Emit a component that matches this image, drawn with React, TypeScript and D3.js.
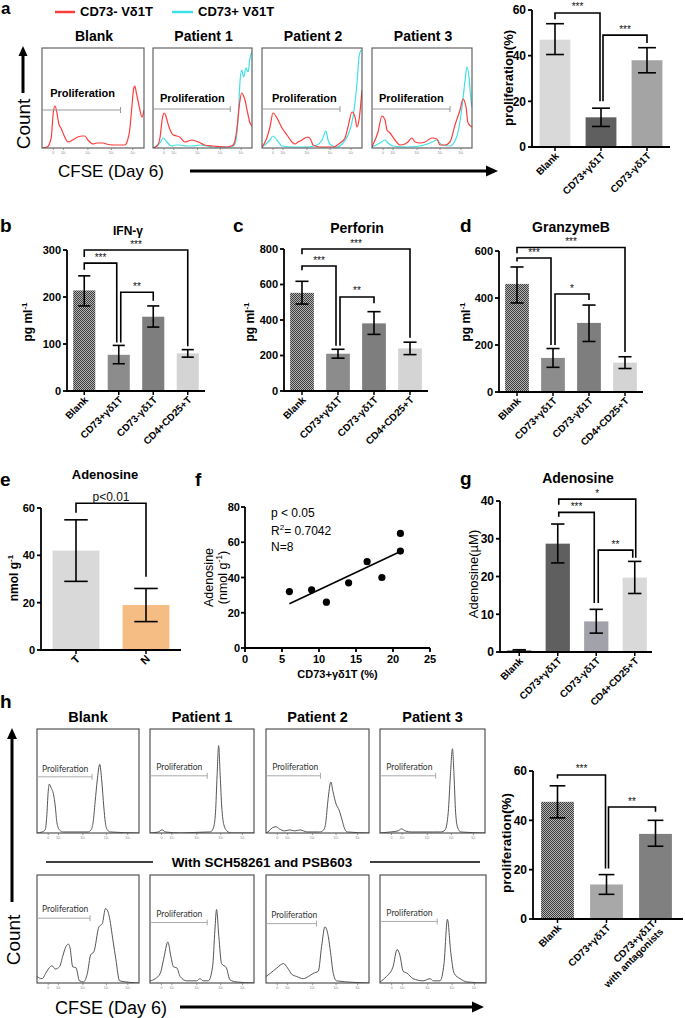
import React from "react";
import * as d3 from "d3";

const FONT = "'Liberation Sans', Arial, Helvetica, sans-serif";
const FONT_GATE = "Lato, 'Open Sans', sans-serif";

type Pt = [number, number];

/* ================= Panel a : CFSE histograms (channel %, count %) ================= */
const aTitles = ["Blank", "Patient 1", "Patient 2", "Patient 3"];
const aNegBlank: Pt[] = [[0,0],[5,1],[9,10],[11,35],[12.7,42],[14.5,36],[16.5,24],[18.6,20],[21,14],[25.5,6],[30,8],[35,11],[40,12],[42,12],[45,8],[47,6],[50,4],[54,5],[60,5],[63,4],[70,3],[76,3],[81,3],[84,8],[86,18],[88,40],[90,60],[91,62],[92.5,55],[94,48],[96,38],[98,31],[100,38]];
const aNegP1: Pt[] = [[0,0],[4,2],[7,10],[9.5,30],[11.4,35],[13,32],[15.5,23],[20.5,13],[24,12],[27,11],[32,6],[36,7],[39,8],[46,6],[52,3],[61,2],[74,1],[79,2],[81,3],[83,8],[85,21],[87.5,45],[89.6,55],[91.5,52],[92.9,48],[95.6,35],[98,25],[100,22]];
const aNegP2: Pt[] = [[0,1],[4,8],[8,21],[11,35],[15,30],[20,20],[25,13],[30,6],[33,4],[36,6],[40,8],[43,10],[46,11],[49,8],[51,3],[58,1],[65,1],[71,1],[78,5],[83,10],[86,21],[90,36],[93,31],[95,21],[97,28],[100,58]];
const aNegP3: Pt[] = [[0,1],[6,16],[10,32],[13,28],[15,18],[18,15],[23,8],[28,3],[33,4],[36,6],[40,10],[43,6],[48,5],[53,6],[60,10],[65,9],[68,3],[73,3],[78,6],[83,23],[88,38],[91,49],[94,41],[96,25],[100,21]];
const aPosP1: Pt[] = [[0,0],[3.7,2],[7,5],[10.4,10],[14,6],[19,2],[23,3],[27,3],[34,2],[40,2],[47.5,3],[55,2],[61,1],[78,1],[81,2],[83.8,8],[86,31],[88,68],[89.6,78],[91.6,71],[93.9,80],[96,76],[98,90],[100,96]];
const aPosP2: Pt[] = [[0,1],[8,8],[11,12],[15,8],[20,2],[32,1],[45,1],[55,3],[60,8],[64,17],[66,8],[69,3],[75,1],[81,5],[86,13],[91,31],[95,65],[97,91],[99,98]];
const aPosP3: Pt[] = [[0,1],[8,5],[13,8],[16,5],[21,2],[35,1],[48,2],[58,5],[65,8],[70,3],[78,2],[85,12],[90,41],[93,67],[95,81],[97,71],[99,48],[100,41]];
const aGateEnd = [77, 78, 78, 78];

/* ================= Panel a : proliferation bars ================= */
const aBarCats = ["Blank", "CD73+γδ1T", "CD73-γδ1T"];
const aBarMean = [47, 13, 38];
const aBarLow = [40.5, 9, 32.5];
const aBarHigh = [54, 17, 43.5];
const aBarTicks = [0, 20, 40, 60];

/* ================= Panels b, c, d : cytokines ================= */
const cytoCats = ["Blank", "CD73+γδ1T", "CD73-γδ1T", "CD4+CD25+T"];
const ifnMean = [214, 77, 158, 80];
const ifnLow = [181, 58, 136, 72];
const ifnHigh = [245, 97, 181, 88];
const ifnTicks = [0, 100, 200, 300];
const perfMean = [553, 210, 381, 240];
const perfLow = [490, 185, 319, 205];
const perfHigh = [618, 235, 447, 275];
const perfTicks = [0, 200, 400, 600, 800];
const gzbMean = [460, 145, 294, 125];
const gzbLow = [379, 105, 215, 100];
const gzbHigh = [532, 185, 370, 150];
const gzbTicks = [0, 200, 400, 600];

/* ================= Panel e ================= */
const eCats = ["T", "N"];
const eMean = [42, 19];
const eLow = [29, 12];
const eHigh = [55, 26];
const eTicks = [0, 20, 40, 60];

/* ================= Panel f ================= */
const fX = [6, 9, 11, 14, 16.5, 18.5, 21, 21];
const fY = [32, 33, 26, 37, 49, 40, 55, 65];
const fXTicks = [0, 5, 10, 15, 20, 25];
const fYTicks = [0, 20, 40, 60, 80];

/* ================= Panel g ================= */
const gMean = [0.4, 28.7, 8.1, 19.7];
const gLow = [0.2, 23.6, 5, 15.5];
const gHigh = [0.6, 33.9, 11.3, 24];
const gTicks = [0, 10, 20, 30, 40];

/* ================= Panel h : histograms ================= */
const hTitles = ["Blank", "Patient 1", "Patient 2", "Patient 3"];
const hTop: Pt[][] = [
  [[0,0],[5,1],[8,3],[9.5,15],[11,40],[12,47],[14,43],[16,38],[18,25],[19.5,10],[22,3],[26,1],[50,1],[53,3],[55,10],[57,30],[59,50],[61.5,66],[63.5,50],[65.5,25],[67,10],[69,3],[72,1],[100,0]],
  [[0,0],[8,1],[11.5,3],[15,1],[30,0],[56,1],[58,1],[61,5],[63,20],[64.5,55],[66,84],[67.5,55],[69,25],[71,8],[74,2],[78,0],[100,0]],
  [[0,0],[3,2],[6,5],[9.7,6],[13,4],[18,2],[23,3],[28,2],[33,3],[40,1],[52,1],[56,3],[58,10],[60,30],[63,49],[65,40],[68,28],[71,22],[74,12],[76,5],[79,1],[100,0]],
  [[0,0],[10,1],[17,2],[20.5,4],[24,2],[30,1],[50,1],[58,1],[62,3],[65,20],[67,55],[69,81],[70.5,55],[72,20],[74,5],[77,1],[100,0]],
];
const hBottom: Pt[][] = [
  [[0,6],[4.9,4],[9.7,11],[14.6,16],[17.9,13],[22,15],[25.3,25],[27.6,32],[30.8,36],[32.5,32],[35,15],[38.3,14],[41.6,2],[45.5,1],[49.4,9],[52.6,26],[55.8,29],[60.7,52],[64,55],[67.2,69],[70.5,63],[74.7,38],[77.3,22],[81,2],[100,0]],
  [[0,2],[5.1,4],[9.9,9],[13.1,22],[17.2,38],[20,25],[22.6,15],[25.8,14],[29,6],[35.4,2],[44.9,2],[48,4],[51.3,2],[56,2],[60.2,15],[62.4,49],[64,68],[66.2,43],[68.8,18],[73.5,14],[76.8,3],[83,1],[100,0]],
  [[0,6],[4.2,9],[10.6,14],[17,18],[20.9,14],[25.1,8],[29.9,6],[36.3,4],[41.2,6],[46,9],[50.8,11],[54,34],[57.2,52],[60.5,43],[62.7,28],[65.3,9],[68.5,2],[100,0]],
  [[0,1],[6,6],[12.3,15],[16.1,31],[18.7,26],[21.8,11],[25.6,9],[31.3,4],[40.8,2],[47.2,4],[50.3,2],[56.6,2],[60.4,18],[63.6,59],[66.8,28],[69.9,9],[75.6,4],[82,1],[100,0]],
];
const hTopGateEnd = [54, 55, 53, 53];
const hBottomGateEnd = [52, 55, 49, 54];

/* ================= Panel h : bars ================= */
const hBarCats = ["Blank", "CD73+γδ1T", "CD73+γδ1T with antagonists"];
const hBarLabels = [["Blank"], ["CD73+γδ1T"], ["CD73+γδ1T", "with antagonists"]];
const hBarMean = [47.5, 14, 34.5];
const hBarLow = [41, 10, 29.5];
const hBarHigh = [54, 18, 40];
const hBarTicks = [0, 20, 40, 60];

const flowTickPos = [11, 21, 45, 68, 89];

type Bracket = { a: number; b: number; top: number; legA: number; legB: number; text: string; dxA?: number; dxB?: number };

function FlowHist(props: {
  x: number; y: number; w: number; h: number;
  series: { data: Pt[]; color: string; width: number }[];
  gateEnd: number; gateLineY: number; gateTextX: number; gateTextY: number;
  gateFont: string; gateSize: number; gateWeight: string | number; gateColor: string; gateTextColor: string;
  boxColor: string;
}) {
  const { x, y, w, h } = props;
  const xs = d3.scaleLinear().domain([0, 100]).range([x, x + w]);
  const ys = d3.scaleLinear().domain([0, 100]).range([y + h, y]);
  const line = d3.line<Pt>().x((d) => xs(d[0])).y((d) => ys(d[1])).curve(d3.curveMonotoneX);
  return (
    <g>
      <defs>
        <clipPath id={`clip-${x}-${y}`}>
          <rect x={x} y={y} width={w} height={h} />
        </clipPath>
      </defs>
      <g clipPath={`url(#clip-${x}-${y})`}>
        {props.series.map((s, i) => (
          <path key={i} d={line(s.data) || ""} fill="none" stroke={s.color} strokeWidth={s.width} />
        ))}
      </g>
      <rect x={x} y={y} width={w} height={h} fill="none" stroke={props.boxColor} strokeWidth={1.1} />
      <line x1={x} x2={xs(props.gateEnd)} y1={ys(props.gateLineY)} y2={ys(props.gateLineY)} stroke={props.gateColor} strokeWidth={1} />
      <line x1={xs(props.gateEnd)} x2={xs(props.gateEnd)} y1={ys(props.gateLineY) - 3} y2={ys(props.gateLineY) + 3} stroke={props.gateColor} strokeWidth={1} />
      <text x={xs(props.gateTextX)} y={ys(props.gateTextY)} fontFamily={props.gateFont} fontSize={props.gateSize} fontWeight={props.gateWeight} fill={props.gateTextColor}>
        Proliferation
      </text>
      {flowTickPos.map((t, i) => (
        <g key={i}>
          <line x1={xs(t)} x2={xs(t)} y1={y + h} y2={y + h + 2} stroke="#777" strokeWidth={0.8} />
          <text x={xs(t)} y={y + h + 6} fontSize={3.5} fill="#888" textAnchor="middle" fontFamily={FONT}>
            {i === 0 ? "0" : "10³"}
          </text>
        </g>
      ))}
    </g>
  );
}

function BarChart(props: {
  x0: number; x1: number; yb: number; yt: number; yMax: number; ticks: number[];
  cats: string[]; labels?: string[][]; means: number[]; lows: number[]; highs: number[]; fills: string[];
  barFrac: number; capFrac: number; brackets: Bracket[]; tickSize: number; catSize: number;
  ylabel: React.ReactNode; ylx: number; yly: number; ylSize: number; ylWeight: string | number;
  axisEnd?: number;
}) {
  const p = props;
  const xs = d3.scalePoint<string>().domain(p.cats).range([p.x0, p.x1]).padding(0.5);
  const ys = d3.scaleLinear().domain([0, p.yMax]).range([p.yb, p.yt]);
  const bw = xs.step() * p.barFrac;
  const cw = bw * p.capFrac;
  const end = p.axisEnd ?? p.x1;
  return (
    <g fontFamily={FONT}>
      {p.cats.map((c, i) => {
        const cx = xs(c)!;
        return (
          <g key={c}>
            <rect x={cx - bw / 2} y={ys(p.means[i])} width={bw} height={p.yb - ys(p.means[i])} fill={p.fills[i]} />
            <line x1={cx} x2={cx} y1={ys(p.lows[i])} y2={ys(p.highs[i])} stroke="#000" strokeWidth={1.6} />
            <line x1={cx - cw / 2} x2={cx + cw / 2} y1={ys(p.lows[i])} y2={ys(p.lows[i])} stroke="#000" strokeWidth={1.6} />
            <line x1={cx - cw / 2} x2={cx + cw / 2} y1={ys(p.highs[i])} y2={ys(p.highs[i])} stroke="#000" strokeWidth={1.6} />
          </g>
        );
      })}
      <line x1={p.x0} x2={p.x0} y1={p.yb + 0.9} y2={ys(p.yMax)} stroke="#000" strokeWidth={1.8} />
      <line x1={p.x0} x2={end} y1={p.yb} y2={p.yb} stroke="#000" strokeWidth={1.8} />
      {p.ticks.map((t) => (
        <g key={t}>
          <line x1={p.x0 - 4} x2={p.x0} y1={ys(t)} y2={ys(t)} stroke="#000" strokeWidth={1.8} />
          <text x={p.x0 - 6} y={ys(t) + p.tickSize * 0.36} textAnchor="end" fontSize={p.tickSize} fontWeight="bold">
            {t}
          </text>
        </g>
      ))}
      {p.cats.map((c, i) => {
        const cx = xs(c)!;
        const lines = p.labels ? p.labels[i] : [c];
        const n = lines.length;
        return (
          <g key={c}>
            <line x1={cx} x2={cx} y1={p.yb} y2={p.yb + 4} stroke="#000" strokeWidth={1.5} />
            <text transform={`translate(${cx + 2},${p.yb + 7}) rotate(-45)`} textAnchor="end" fontSize={p.catSize} fontWeight="bold">
              {lines.map((l, j) => (
                <tspan key={j} x={0} y={0} dy={`${0.35 + (j - (n - 1) / 2) * 1.1}em`}>
                  {l}
                </tspan>
              ))}
            </text>
          </g>
        );
      })}
      {p.brackets.map((b, i) => {
        const xa = xs(p.cats[b.a])! + (b.dxA || 0);
        const xb = xs(p.cats[b.b])! + (b.dxB || 0);
        const yt = ys(b.top);
        return (
          <g key={i}>
            <path d={`M${xa},${ys(b.legA)}V${yt}H${xb}V${ys(b.legB)}`} fill="none" stroke="#000" strokeWidth={1.6} />
            <text x={(xa + xb) / 2} y={yt - 2.5} textAnchor="middle" fontSize={b.text.startsWith("p") ? 12 : 10} fill="#111">
              {b.text}
            </text>
          </g>
        );
      })}
      <text transform={`translate(${p.ylx},${p.yly}) rotate(-90)`} textAnchor="middle" fontSize={p.ylSize} fontWeight={p.ylWeight}>
        {p.ylabel}
      </text>
    </g>
  );
}

function Arrow({ x1, y1, x2, y2, w, head }: { x1: number; y1: number; x2: number; y2: number; w: number; head: number }) {
  const ang = Math.atan2(y2 - y1, x2 - x1);
  const bx = x2 - Math.cos(ang) * head;
  const by = y2 - Math.sin(ang) * head;
  const px = -Math.sin(ang) * head * 0.45;
  const py = Math.cos(ang) * head * 0.45;
  return (
    <g>
      <line x1={x1} y1={y1} x2={bx} y2={by} stroke="#000" strokeWidth={w} />
      <path d={`M${x2},${y2}L${bx + px},${by + py}L${bx - px},${by - py}Z`} fill="#000" />
    </g>
  );
}

function Scatter() {
  const x0 = 245, x1 = 430, yb = 648, yt = 507;
  const xs = d3.scaleLinear().domain([0, 25]).range([x0, x1]);
  const ys = d3.scaleLinear().domain([0, 80]).range([yb, yt]);
  const mx = d3.mean(fX)!;
  const my = d3.mean(fY)!;
  const sxy = d3.sum(fX.map((x, i) => (x - mx) * (fY[i] - my)));
  const sxx = d3.sum(fX.map((x) => (x - mx) * (x - mx)));
  const slope = sxy / sxx;
  const icpt = my - slope * mx;
  const xmin = d3.min(fX)!;
  const xmax = d3.max(fX)!;
  return (
    <g fontFamily={FONT}>
      <line x1={x0} x2={x0} y1={yb + 0.9} y2={yt} stroke="#000" strokeWidth={1.8} />
      <line x1={x0} x2={x1} y1={yb} y2={yb} stroke="#000" strokeWidth={1.8} />
      {fYTicks.map((t) => (
        <g key={t}>
          <line x1={x0 - 4} x2={x0} y1={ys(t)} y2={ys(t)} stroke="#000" strokeWidth={1.8} />
          <text x={x0 - 5} y={ys(t) + 4} textAnchor="end" fontSize={11} fontWeight="bold">{t}</text>
        </g>
      ))}
      {fXTicks.map((t) => (
        <g key={t}>
          <line x1={xs(t)} x2={xs(t)} y1={yb} y2={yb + 4} stroke="#000" strokeWidth={1.8} />
          <text x={xs(t)} y={yb + 15} textAnchor="middle" fontSize={11} fontWeight="bold">{t}</text>
        </g>
      ))}
      <line x1={xs(xmin)} y1={ys(icpt + slope * xmin)} x2={xs(xmax)} y2={ys(icpt + slope * xmax)} stroke="#000" strokeWidth={1.6} />
      {fX.map((x, i) => (
        <circle key={i} cx={xs(x)} cy={ys(fY[i])} r={3.6} fill="#000" />
      ))}
      <text x={271} y={517} fontSize={12}>p &lt; 0.05</text>
      <text x={271} y={535} fontSize={12}>R<tspan dy={-5} fontSize={8}>2</tspan><tspan dy={5}>= 0.7042</tspan></text>
      <text x={271} y={551} fontSize={12}>N=8</text>
      <text x={(x0 + x1) / 2} y={yb + 30} textAnchor="middle" fontSize={11} fontWeight="bold">CD73+γδ1T (%)</text>
      <text transform={`translate(213,${(yb + yt) / 2}) rotate(-90)`} textAnchor="middle" fontSize={12.5}>Adenosine</text>
      <text transform={`translate(227,${(yb + yt) / 2}) rotate(-90)`} textAnchor="middle" fontSize={12.5}>
        (nmol g<tspan dy={-5} fontSize={8.5}>-1</tspan><tspan dy={5}>)</tspan>
      </text>
    </g>
  );
}

const pgml = (
  <>
    pg ml<tspan dy={-5} fontSize={8}>-1</tspan>
  </>
);

export default function App() {
  const aBoxX = [42, 153, 262, 372];
  const aBoxW = [102, 99, 100, 100];
  const aNeg = [aNegBlank, aNegP1, aNegP2, aNegP3];
  const aPos = [null, aPosP1, aPosP2, aPosP3];
  const hBoxX = [37, 150, 266, 380];
  const hBoxW = [102, 104, 103, 105];
  const red = "#ff3c3c";
  const cyan = "#3ee2e6";
  return (
    <svg width={685} height={1018} viewBox="0 0 685 1018" style={{ position: "absolute", left: 0, top: 0, background: "#fff" }} fontFamily={FONT}>
      <defs>
        <pattern id="check" width={2} height={2} patternUnits="userSpaceOnUse">
          <rect width={2} height={2} fill="#b4b4b4" />
          <rect width={1} height={1} fill="#3c3c3c" />
          <rect x={1} y={1} width={1} height={1} fill="#3c3c3c" />
        </pattern>
      </defs>
      <rect width={685} height={1018} fill="#fff" />

      {/* ---------- Panel a ---------- */}
      <text x={1} y={14} fontSize={17} fontWeight="bold">a</text>
      <line x1={55} x2={75} y1={12} y2={12} stroke={red} strokeWidth={2.5} />
      <text x={80} y={16} fontSize={13} fontWeight="bold">CD73- Vδ1T</text>
      <line x1={172} x2={193} y1={12} y2={12} stroke={cyan} strokeWidth={2.5} />
      <text x={198} y={16} fontSize={13} fontWeight="bold">CD73+ Vδ1T</text>
      {aTitles.map((t, i) => (
        <text key={t} x={aBoxX[i] + aBoxW[i] / 2 + 1} y={41} textAnchor="middle" fontSize={14} fontWeight="bold">{t}</text>
      ))}
      {aTitles.map((t, i) => {
        const series = [{ data: aNeg[i], color: red, width: 1.2 }];
        if (aPos[i]) series.push({ data: aPos[i] as Pt[], color: cyan, width: 1.2 });
        return (
          <FlowHist key={t} x={aBoxX[i]} y={48} w={aBoxW[i]} h={100}
            series={i === 0 ? series : [series[1], series[0]]}
            gateEnd={aGateEnd[i]} gateLineY={i === 0 ? 38 : 39} gateTextX={i === 0 ? 8 : i === 2 ? 10 : 7} gateTextY={i === 0 ? 51 : 46}
            gateFont={FONT} gateSize={11} gateWeight="bold" gateColor="#999" gateTextColor="#000" boxColor="#555" />
        );
      })}
      <Arrow x1={23} y1={93} x2={23} y2={46} w={3} head={10} />
      <text transform="translate(30,124) rotate(-90)" textAnchor="middle" fontSize={19}>Count</text>
      <text x={58} y={177} fontSize={17}>CFSE (Day 6)</text>
      <Arrow x1={190} y1={171} x2={498} y2={171} w={3} head={12} />

      <BarChart x0={532} x1={670} yb={147} yt={10} yMax={60} ticks={aBarTicks}
        cats={aBarCats} means={aBarMean} lows={aBarLow} highs={aBarHigh} fills={["#d9d9d9", "#5f5f5f", "#a4a4a4"]}
        barFrac={0.67} capFrac={0.58}
        brackets={[
          { a: 0, b: 1, top: 58.7, legA: 56, legB: 20, text: "***", dxB: -1 },
          { a: 1, b: 2, top: 49, legA: 20, legB: 45.5, text: "***", dxA: 2 },
        ]}
        tickSize={12} catSize={10} ylabel="proliferation(%)" ylx={513} yly={78} ylSize={13} ylWeight="bold" />

      {/* ---------- Panel b ---------- */}
      <text x={0} y={232} fontSize={19} fontWeight="bold">b</text>
      <text x={128} y={235} textAnchor="middle" fontSize={12} fontWeight="bold">IFN-γ</text>
      <BarChart x0={67} x1={205} yb={391} yt={250} yMax={300} ticks={ifnTicks}
        cats={cytoCats} means={ifnMean} lows={ifnLow} highs={ifnHigh} fills={["url(#check)", "#8c8c8c", "#7e7e7e", "#d4d4d4"]}
        barFrac={0.64} capFrac={0.55}
        brackets={[
          { a: 0, b: 3, top: 300, legA: 285, legB: 95, text: "***" },
          { a: 0, b: 1, top: 272, legA: 258, legB: 103, text: "***", dxB: -2 },
          { a: 1, b: 2, top: 210, legA: 103, legB: 192, text: "**", dxA: 2 },
        ]}
        tickSize={11} catSize={10} ylabel={pgml} ylx={32} yly={322} ylSize={12} ylWeight="bold" />

      {/* ---------- Panel c ---------- */}
      <text x={233} y={232} fontSize={19} fontWeight="bold">c</text>
      <text x={357} y={233} textAnchor="middle" fontSize={14} fontWeight="bold">Perforin</text>
      <BarChart x0={284} x1={428} yb={391} yt={249} yMax={800} ticks={perfTicks}
        cats={cytoCats} means={perfMean} lows={perfLow} highs={perfHigh} fills={["url(#check)", "#8c8c8c", "#7e7e7e", "#d4d4d4"]}
        barFrac={0.66} capFrac={0.55}
        brackets={[
          { a: 0, b: 3, top: 800, legA: 770, legB: 300, text: "***" },
          { a: 0, b: 1, top: 704, legA: 680, legB: 255, text: "***", dxB: -2 },
          { a: 1, b: 2, top: 530, legA: 255, legB: 495, text: "**", dxA: 2 },
        ]}
        tickSize={11} catSize={10} ylabel={pgml} ylx={254} yly={322} ylSize={12} ylWeight="bold" />

      {/* ---------- Panel d ---------- */}
      <text x={460} y={232} fontSize={19} fontWeight="bold">d</text>
      <text x={571} y={232} textAnchor="middle" fontSize={14} fontWeight="bold">GranzymeB</text>
      <BarChart x0={499} x1={643} yb={392} yt={251} yMax={600} ticks={gzbTicks}
        cats={cytoCats} means={gzbMean} lows={gzbLow} highs={gzbHigh} fills={["url(#check)", "#8c8c8c", "#7e7e7e", "#d4d4d4"]}
        barFrac={0.66} capFrac={0.55}
        brackets={[
          { a: 0, b: 3, top: 615, legA: 590, legB: 170, text: "***" },
          { a: 0, b: 1, top: 570, legA: 555, legB: 200, text: "***", dxB: -2 },
          { a: 1, b: 2, top: 417, legA: 200, legB: 392, text: "*", dxA: 2 },
        ]}
        tickSize={11} catSize={10} ylabel={pgml} ylx={470} yly={322} ylSize={12} ylWeight="bold" />

      {/* ---------- Panel e ---------- */}
      <text x={0} y={486} fontSize={19} fontWeight="bold">e</text>
      <text x={105} y={479} textAnchor="middle" fontSize={13} fontWeight="bold">Adenosine</text>
      <BarChart x0={41} x1={181} yb={650} yt={508} yMax={60} ticks={eTicks}
        cats={eCats} means={eMean} lows={eLow} highs={eHigh} fills={["#d9d9d9", "#f5bd83"]}
        barFrac={0.67} capFrac={0.5}
        brackets={[{ a: 0, b: 1, top: 62, legA: 58, legB: 31, text: "p<0.01" }]}
        tickSize={11} catSize={11}
        ylabel={<>nmol g<tspan dy={-5} fontSize={8}>-1</tspan></>} ylx={18} yly={578} ylSize={12} ylWeight="bold" />

      {/* ---------- Panel f ---------- */}
      <text x={195} y={486} fontSize={19} fontWeight="bold">f</text>
      <Scatter />

      {/* ---------- Panel g ---------- */}
      <text x={460} y={485} fontSize={19} fontWeight="bold">g</text>
      <text x={578} y={483} textAnchor="middle" fontSize={14} fontWeight="bold">Adenosine</text>
      <BarChart x0={500} x1={654} axisEnd={652} yb={652} yt={501} yMax={40} ticks={gTicks}
        cats={cytoCats} means={gMean} lows={gLow} highs={gHigh} fills={["#3a3a3a", "#5f5f5f", "#a2a2aa", "#d9d9d9"]}
        barFrac={0.63} capFrac={0.55}
        brackets={[
          { a: 1, b: 3, top: 40.5, legA: 39, legB: 25, text: "*", dxA: 1, dxB: 1 },
          { a: 1, b: 2, top: 37, legA: 35.8, legB: 13, text: "***", dxA: 1, dxB: -2 },
          { a: 2, b: 3, top: 27, legA: 13, legB: 25, text: "**", dxA: 2, dxB: -2 },
        ]}
        tickSize={12} catSize={10} ylabel="Adenosine(µM)" ylx={478} yly={574} ylSize={13} ylWeight="normal" />

      {/* ---------- Panel h ---------- */}
      <text x={0} y={708} fontSize={19} fontWeight="bold">h</text>
      {hTitles.map((t, i) => (
        <text key={t} x={hBoxX[i] + hBoxW[i] / 2} y={722} textAnchor="middle" fontSize={14.5} fontWeight="bold">{t}</text>
      ))}
      {hTitles.map((t, i) => (
        <FlowHist key={"ht" + t} x={hBoxX[i]} y={729} w={hBoxW[i]} h={104}
          series={[{ data: hTop[i], color: "#555", width: 1 }]}
          gateEnd={hTopGateEnd[i]} gateLineY={i === 0 ? 54 : 55} gateTextX={i === 0 ? 5 : 6} gateTextY={i === 0 ? 59 : 61}
          gateFont={FONT_GATE} gateSize={8.5} gateWeight="normal" gateColor="#aaa" gateTextColor="#333" boxColor="#444" />
      ))}
      <line x1={46} x2={153} y1={862} y2={862} stroke="#000" strokeWidth={1.5} />
      <line x1={370} x2={480} y1={862} y2={862} stroke="#000" strokeWidth={1.5} />
      <text x={262} y={867} textAnchor="middle" fontSize={13.5} fontWeight="bold">With SCH58261 and PSB603</text>
      {hTitles.map((t, i) => (
        <FlowHist key={"hb" + t} x={hBoxX[i]} y={875} w={hBoxW[i] + (i === 3 ? 1 : 0)} h={108}
          series={[{ data: hBottom[i], color: "#555", width: 1 }]}
          gateEnd={hBottomGateEnd[i]} gateLineY={[60, 56, 55, 57][i]} gateTextX={[5, 6, 5, 6][i]} gateTextY={[66, 61, 60, 62][i]}
          gateFont={FONT_GATE} gateSize={8.5} gateWeight="normal" gateColor="#aaa" gateTextColor="#333" boxColor="#444" />
      ))}
      <Arrow x1={12} y1={902} x2={12} y2={728} w={3} head={11} />
      <text transform="translate(20,940) rotate(-90)" textAnchor="middle" fontSize={19}>Count</text>
      <text x={55} y={1014} fontSize={18}>CFSE (Day 6)</text>
      <Arrow x1={180} y1={1007} x2={484} y2={1007} w={3} head={12} />

      <BarChart x0={533} x1={680} axisEnd={683} yb={919} yt={771} yMax={60} ticks={hBarTicks}
        cats={hBarCats} labels={hBarLabels} means={hBarMean} lows={hBarLow} highs={hBarHigh} fills={["url(#check)", "#a8a8a8", "#808080"]}
        barFrac={0.67} capFrac={0.48}
        brackets={[
          { a: 0, b: 1, top: 58.4, legA: 57, legB: 20.5, text: "***", dxB: -1 },
          { a: 1, b: 2, top: 45.4, legA: 20.5, legB: 43.5, text: "**", dxA: 2 },
        ]}
        tickSize={12} catSize={10} ylabel="proliferation(%)" ylx={511} yly={843} ylSize={13.5} ylWeight="bold" />
    </svg>
  );
}
